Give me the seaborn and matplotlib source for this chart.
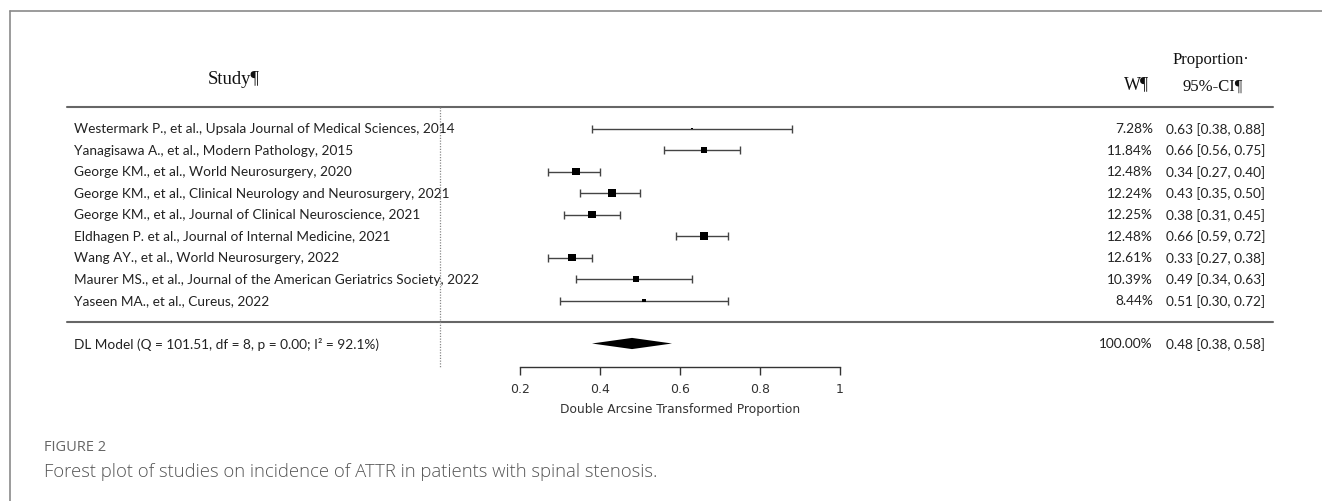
"""
Forest plot: incidence of ATTR in patients with spinal stenosis
"""
import numpy as np
import pandas as pd
import matplotlib
matplotlib.use('Agg')
import matplotlib.pyplot as plt
import matplotlib.transforms as mtransforms
import seaborn as sns

# 데이터
studies = [
    'Westermark P., et al., Upsala Journal of Medical Sciences, 2014',
    'Yanagisawa A., et al., Modern Pathology, 2015',
    'George KM., et al., World Neurosurgery, 2020',
    'George KM., et al., Clinical Neurology and Neurosurgery, 2021',
    'George KM., et al., Journal of Clinical Neuroscience, 2021',
    'Eldhagen P. et al., Journal of Internal Medicine, 2021',
    'Wang AY., et al., World Neurosurgery, 2022',
    'Maurer MS., et al., Journal of the American Geriatrics Society, 2022',
    'Yaseen MA., et al., Cureus, 2022',
]
weights = [7.28, 11.84, 12.48, 12.24, 12.25, 12.48, 12.61, 10.39, 8.44]
props = [0.63, 0.66, 0.34, 0.43, 0.38, 0.66, 0.33, 0.49, 0.51]
ci_low = [0.38, 0.56, 0.27, 0.35, 0.31, 0.59, 0.27, 0.34, 0.30]
ci_high = [0.88, 0.75, 0.40, 0.50, 0.45, 0.72, 0.38, 0.63, 0.72]

model_label = 'DL Model (Q = 101.51, df = 8, p = 0.00; I\u00b2 = 92.1%)'
pooled_weight = 100.00
pooled = 0.48
pooled_low = 0.38
pooled_high = 0.58

x_ticks = [0.2, 0.4, 0.6, 0.8, 1.0]
x_tick_labels = ['0.2', '0.4', '0.6', '0.8', '1']
x_label = 'Double Arcsine Transformed Proportion'

fig_label = 'FIGURE 2'
caption = 'Forest plot of studies on incidence of ATTR in patients with spinal stenosis.'

df = pd.DataFrame({'study': studies, 'weight': weights, 'prop': props,
                   'low': ci_low, 'high': ci_high})
df['row'] = np.arange(len(df))
model_row = len(df) + 1

sns.set_style('white')
plt.rcParams['font.family'] = ['DejaVu Sans']

W, H = 1322, 502
fig = plt.figure(figsize=(W / 100, H / 100), dpi=100)

# 축: 전체 폭, 아래쪽 spine이 눈금 축
ax_bottom_px = 367.5
ax = fig.add_axes([0, (H - ax_bottom_px) / H, 1, ax_bottom_px / H])
xlim = (0.2 - 520 / 400, 0.2 + (W - 520) / 400)
ax.set_xlim(*xlim)
row0_px, row_step = 129.5, 21.5
ax.set_ylim((ax_bottom_px - row0_px) / row_step, -row0_px / row_step)

# 오차 막대 + 가중치 사각형
ax.errorbar(df['prop'], df['row'],
            xerr=[df['prop'] - df['low'], df['high'] - df['prop']],
            fmt='none', ecolor='#444444', elinewidth=1.0, capsize=3.2, capthick=1.0)
sns.scatterplot(data=df, x='prop', y='row', size='weight', sizes=(2, 28),
                size_norm=(min(weights), max(weights)), marker='s', color='black',
                linewidth=0, legend=False, ax=ax, zorder=3)

# 통합 다이아몬드
dh = 0.26
ax.fill([pooled_low, pooled, pooled_high, pooled],
        [model_row, model_row - dh, model_row, model_row + dh],
        color='black', lw=0)

# 축 스타일
for side in ['top', 'left', 'right']:
    ax.spines[side].set_visible(False)
ax.spines['bottom'].set_bounds(x_ticks[0], x_ticks[-1])
ax.spines['bottom'].set_color('#333333')
ax.spines['bottom'].set_linewidth(1.0)
ax.set_xticks(x_ticks)
ax.set_xticklabels(x_tick_labels)
ax.set_yticks([])
ax.tick_params(axis='x', bottom=True, direction='out', length=6, width=1.0,
               color='#333333', pad=5.5, labelsize=9, labelcolor='#333333')
ax.set_xlabel(x_label, fontsize=8.8, color='#333333', labelpad=5)
ax.xaxis.label.set_x((0.6 - xlim[0]) / (xlim[1] - xlim[0]))
ax.set_ylabel('')
ax.patch.set_alpha(0)

# 텍스트 열
tr = mtransforms.blended_transform_factory(fig.transFigure, ax.transData)
label_font = dict(family='Lato', fontsize=9.8, color='#222222', va='center')
for _, r in df.iterrows():
    ax.text(74 / W, r['row'], r['study'], transform=tr, ha='left', **label_font)
    ax.text(1153 / W, r['row'], f"{r['weight']:.2f}%", transform=tr, ha='right', **label_font)
    ax.text(1265 / W, r['row'], f"{r['prop']:.2f} [{r['low']:.2f}, {r['high']:.2f}]",
            transform=tr, ha='right', **label_font)
ax.text(74 / W, model_row, model_label, transform=tr, ha='left', **label_font)
ax.text(1153 / W, model_row, f'{pooled_weight:.2f}%', transform=tr, ha='right', **label_font)
ax.text(1265 / W, model_row, f'{pooled:.2f} [{pooled_low:.2f}, {pooled_high:.2f}]',
        transform=tr, ha='right', **label_font)

# 헤더 (세리프)
serif = dict(family='Liberation Serif', color='#111111', va='center', ha='center')
fig.text(234 / W, 1 - 80 / H, 'Study\u00b6', fontsize=13.5, **serif)
fig.text(1137 / W, 1 - 85 / H, 'W\u00b6', fontsize=13, **serif)
fig.text(1211 / W, 1 - 60 / H, 'Proportion\u00b7', fontsize=12, **serif)
fig.text(1213 / W, 1 - 87 / H, '95%-CI\u00b6', fontsize=12, **serif)

# 구분선, 점선
for y_px in [108, 323]:
    fig.add_artist(plt.Line2D([67 / W, 1273 / W], [1 - y_px / H, 1 - y_px / H],
                              color='#666666', lw=1.5))
fig.add_artist(plt.Line2D([440 / W, 440 / W], [1 - 108 / H, 1 - 368 / H],
                          color='#888888', lw=0.9, ls=(0, (1, 1.2))))

# 바깥 테두리 (위, 왼쪽)
fig.add_artist(plt.Line2D([10 / W, 1], [1 - 12 / H, 1 - 12 / H], color='#8a8a8a', lw=1.2))
fig.add_artist(plt.Line2D([10 / W, 10 / W], [1 - 12 / H, 0], color='#8a8a8a', lw=1.2))

# 캡션
fig.text(44 / W, 1 - 448 / H, fig_label, family='Open Sans', fontsize=10.5,
         color='#666666', va='center', ha='left')
fig.text(44 / W, 1 - 472 / H, caption, family='Open Sans', fontsize=13.3,
         fontweight='light', color='#555555', va='center', ha='left')

fig.savefig('out.png', dpi=100)
plt.close(fig)
